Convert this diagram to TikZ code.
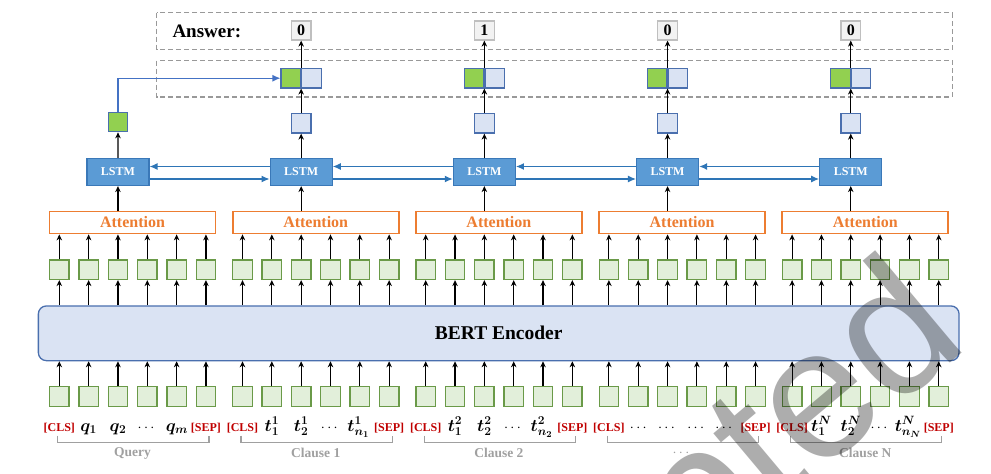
\documentclass[tikz,border=0pt]{standalone}
\usepackage{amsmath,bm}
\usepackage{fontspec}
\setmainfont{Liberation Serif}
\newfontfamily\wmfont{Liberation Sans}
\usetikzlibrary{arrows.meta}
\definecolor{gfill}{HTML}{E2EFDA}
\definecolor{gline}{HTML}{6A9A48}
\definecolor{lstmfill}{HTML}{5B9BD5}
\definecolor{lstmline}{HTML}{3A78B8}
\definecolor{bfill}{HTML}{DAE3F3}
\definecolor{bline}{HTML}{4A6FAE}
\definecolor{gsolid}{HTML}{92D050}
\definecolor{orng}{HTML}{ED7D31}
\definecolor{tokred}{HTML}{C00000}
\definecolor{lgray}{HTML}{A0A0A0}
\definecolor{dgray}{HTML}{999999}
\definecolor{ansfill}{HTML}{F2F2F2}
\definecolor{ansline}{HTML}{BFBFBF}
\definecolor{arrblue}{HTML}{2E75B6}
\definecolor{arrblue2}{HTML}{4472C4}
\tikzset{
  tok/.style={draw=gline, fill=gfill, line width=1.3pt, minimum width=19.5pt, minimum height=19.5pt, inner sep=0pt},
  lstmbox/.style={draw=lstmline, fill=lstmfill, line width=1.2pt, minimum width=62pt, minimum height=27pt, inner sep=0pt, text=white, font=\fontsize{12}{12}\selectfont\bfseries},
  attbox/.style={draw=orng, fill=white, line width=1.8pt, minimum width=166pt, minimum height=22pt, inner sep=0pt, text=orng, font=\fontsize{16}{16}\selectfont\bfseries},
  hbox/.style={draw=bline, fill=bfill, line width=1.2pt, minimum width=19.5pt, minimum height=19.5pt, inner sep=0pt},
  gbox/.style={hbox, fill=gsolid},
  ansbox/.style={draw=ansline, fill=ansfill, line width=1.2pt, minimum width=19.5pt, minimum height=19pt, inner sep=0pt, font=\fontsize{16}{16}\selectfont\bfseries},
  uparr/.style={-{Stealth[length=6pt,width=5.5pt]}, line width=1.1pt, black},
  harr/.style={-{Latex[length=8pt,width=7pt]}, line width=1.2pt, arrblue},
  harrb/.style={-{Latex[length=8pt,width=7pt]}, line width=1.2pt, arrblue2},
  tokl/.style={font=\fontsize{12}{12}\selectfont\bfseries, text=tokred, inner sep=0pt, anchor=base},
  mathl/.style={font=\fontsize{18}{18}\selectfont, inner sep=0pt, anchor=base},
  dotl/.style={font=\fontsize{14}{14}\selectfont, inner sep=0pt, anchor=base},
  grpl/.style={font=\fontsize{13.5}{13.5}\selectfont\bfseries, text=lgray, inner sep=0pt},
  dashbox/.style={draw=dgray, line width=1.1pt, dash pattern=on 5pt off 3pt},
  brk/.style={draw=lgray, line width=1.2pt}
}
\begin{document}
\begin{tikzpicture}[x=1pt,y=-1pt]
\useasboundingbox (0,0) rectangle (991,474);
% dashed frames
\draw[dashbox] (156.7,12.7) rectangle (952.3,49.3);
\draw[dashbox] (156.7,60.7) rectangle (952.3,97);
\node[font=\fontsize{19}{19}\selectfont\bfseries, anchor=west, inner sep=0pt] (anslbl) at (172.3,31) {Answer:};
% BERT
\node[draw=bline, fill=bfill, rounded corners=8pt, line width=1.3pt, minimum width=920.7pt, minimum height=54.7pt, inner sep=0pt, font=\fontsize{19.5}{19.5}\selectfont\bfseries] (bert) at (498.7,333.3) {BERT Encoder};
% tokens, embeddings, attention, LSTM
\foreach \g in {0,...,4}{
  \foreach \i in {1,...,6}{
    \pgfmathsetmacro\xx{59.3+\g*183.2+(\i-1)*29.33}
    \node[tok] (b\g\i) at (\xx,396.4) {};
    \node[tok] (e\g\i) at (\xx,269.7) {};
    \draw[uparr] (b\g\i.north) -- (b\g\i.north |- bert.south);
    \draw[uparr] (b\g\i.north |- bert.north) -- (e\g\i.south);
  }
  \pgfmathsetmacro\xa{132.5+\g*183.2}
  \pgfmathsetmacro\xc{59.3+\g*183.2+2*29.33}
  \node[attbox] (att\g) at (\xa,222.5) {Attention};
  \foreach \i in {1,...,6}{
    \draw[uparr] (e\g\i.north) -- (e\g\i.north |- att\g.south);
  }
  \node[lstmbox] (l\g) at (\xc,172) {LSTM};
  \draw[uparr] (l\g.south |- att\g.north) -- (l\g.south);
  % bracket
  \pgfmathsetmacro\xl{59.3+\g*183.2-1.5}
  \pgfmathsetmacro\xr{59.3+\g*183.2+5*29.33+3}
  \draw[brk] (\xl,435.7) -- (\xl,442.3) -- (\xr,442.3) -- (\xr,435.7);
}
% small boxes
\node[gbox] (s0) at (118,122) {};
\draw[uparr] (l0.north) -- (s0.south);
\foreach \g in {1,...,4}{
  \pgfmathsetmacro\xc{59.3+\g*183.2+2*29.33}
  \node[hbox] (s\g) at (\xc,123.3) {};
  \draw[uparr] (l\g.north) -- (s\g.south);
  \node[gbox, anchor=east] (cg\g) at (\xc,78.2) {};
  \node[hbox, anchor=west] (cb\g) at (\xc,78.2) {};
  \node[ansbox] (a\g) at (\xc,30.5) {};
  \draw[uparr] (s\g.north) -- (cg\g.south east);
  \draw[uparr] (cg\g.north east) -- (a\g.south);
}
\node[font=\fontsize{16}{16}\selectfont\bfseries] at (a1) {0};
\node[font=\fontsize{16}{16}\selectfont\bfseries] at (a2) {1};
\node[font=\fontsize{16}{16}\selectfont\bfseries] at (a3) {0};
\node[font=\fontsize{16}{16}\selectfont\bfseries] at (a4) {0};
\draw[harrb] (s0.north) |- (cg1.west);
% LSTM links
\foreach \g [count=\n from 1] in {0,...,3}{
  \draw[harr] ([yshift=5.5pt]l\n.west) -- ([yshift=5.5pt]l\g.east);
  \draw[harr] ([yshift=-7pt]l\g.east) -- ([yshift=-7pt]l\n.west);
}
% token labels
\def\yb{431}
\foreach \g in {0,...,4}{
  \pgfmathsetmacro\xo{59.3+\g*183.2}
  \node[tokl] (c\g) at (\xo,\yb) {[CLS]};
  \node[tokl] (p\g) at (\xo+5*29.33,\yb) {[SEP]};
}
\node[mathl] (q1) at (88.6,\yb) {$\bm{q_1}$};
\node[mathl] (q2) at (118,\yb) {$\bm{q_2}$};
\node[dotl] (q3) at (147.3,\yb) {$\cdots$};
\node[mathl] (q4) at (177,\yb) {$\bm{q_m}$};
\node[mathl] (t11) at (271.8,\yb) {$\bm{t_1^1}$};
\node[mathl] (t12) at (301.2,\yb) {$\bm{t_2^1}$};
\node[dotl] (t13) at (330.5,\yb) {$\cdots$};
\node[mathl] (t14) at (358.5,\yb) {$\bm{t_{n_1}^1}$};
\node[mathl] (t21) at (455,\yb) {$\bm{t_1^2}$};
\node[mathl] (t22) at (484.4,\yb) {$\bm{t_2^2}$};
\node[dotl] (t23) at (513.7,\yb) {$\cdots$};
\node[mathl] (t24) at (541.7,\yb) {$\bm{t_{n_2}^2}$};
\node[dotl] (d1) at (639.5,\yb) {$\cdots$};
\node[dotl] (d2) at (667.6,\yb) {$\cdots$};
\node[dotl] (d3) at (696.9,\yb) {$\cdots$};
\node[dotl] (d4) at (725,\yb) {$\cdots$};
\node[mathl] (tn1) at (821.4,\yb) {$\bm{t_1^N}$};
\node[mathl] (tn2) at (850.8,\yb) {$\bm{t_2^N}$};
\node[dotl] (tn3) at (880.1,\yb) {$\cdots$};
\node[mathl] (tn4) at (908,\yb) {$\bm{t_{n_N}^N}$};
% group labels
\node[grpl] (gq) at (132.5,453.3) {Query};
\node[grpl] (g1) at (315.7,453.3) {Clause 1};
\node[grpl] (g2) at (498.9,453.3) {Clause 2};
\node[grpl] (g3) at (682.1,453.3) {$\cdots$};
\node[grpl] (g4) at (865.3,453.3) {Clause N};
% watermark
\begin{scope}
\clip (0,0) rectangle (991,474);
\node[font=\wmfont\fontsize{185}{185}\selectfont, text=black, text opacity=0.32, rotate=40, anchor=base east, inner sep=0pt] (wm) at (972,345) {Accepted};
\end{scope}
\end{tikzpicture}
\end{document}
